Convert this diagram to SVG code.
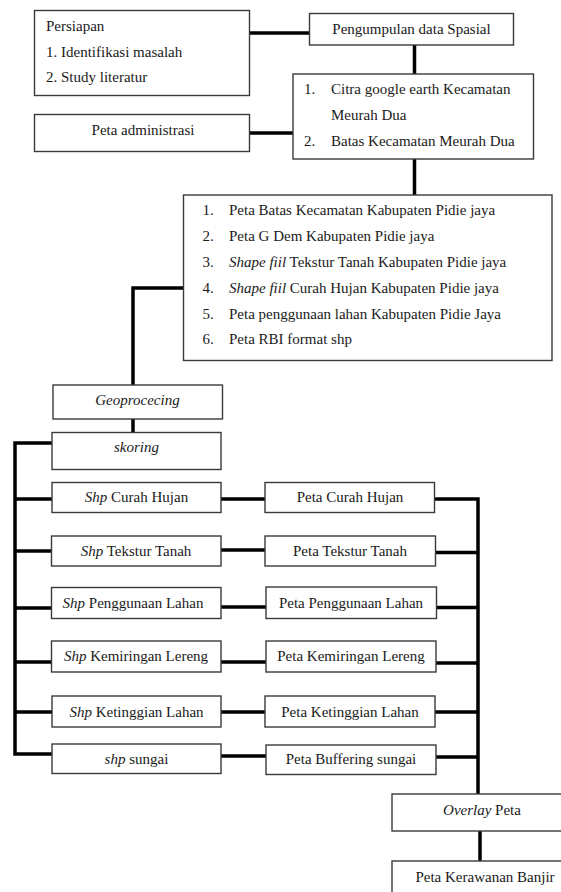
<svg xmlns="http://www.w3.org/2000/svg" width="561" height="892" viewBox="0 0 561 892">
<style>
.box{fill:#fff;stroke:#3a3a3a;stroke-width:1.4}
.t{font-family:"Liberation Serif","Times New Roman",serif;font-size:15px;fill:#1a1a1a}
.c{text-anchor:middle}
.i{font-style:italic}
.ln{fill:none;stroke:#000;stroke-width:3.5;stroke-linejoin:miter}
</style>
<rect width="561" height="892" fill="#fff"/>
<g id="connectors">
<path class="ln" d="M249,33 H309"/>
<path class="ln" d="M250,133 H293"/>
<path class="ln" d="M414.5,45 V74"/>
<path class="ln" d="M414.5,159 V195"/>
<path class="ln" d="M184,288 H133 V385"/>
<path class="ln" d="M133,419 V432"/>
<path class="ln" d="M52,443 H15 V754 H52"/>
<path class="ln" d="M15,499 H52 M15,551 H51 M15,608 H51 M15,662 H51 M15,712 H52"/>
<path class="ln" d="M221,499 H265 M221,550 H265 M221,607 H266 M221,662 H266 M221,712 H265 M221,756 H266"/>
<path class="ln" d="M434,499 H478 V794"/>
<path class="ln" d="M435,552.5 H478 M436,607.5 H478 M436,663 H478 M435,712 H478 M436,757 H478"/>
<path class="ln" d="M480,831 V861"/>
</g>
<g id="persiapan">
<rect class="box" x="34.5" y="10.5" width="215" height="85"/>
<text class="t" x="46" y="30.5">Persiapan</text>
<text class="t" x="46" y="56.5">1. Identifikasi masalah</text>
<text class="t" x="46" y="82">2. Study literatur</text>
</g>
<g id="pengumpulan">
<rect class="box" x="309.5" y="13.5" width="204" height="31.5"/>
<text class="t c" x="411.5" y="34">Pengumpulan data Spasial</text>
</g>
<g id="peta-administrasi">
<rect class="box" x="34.5" y="114.5" width="215" height="37"/>
<text class="t c" x="143" y="134.5">Peta administrasi</text>
</g>
<g id="citra">
<rect class="box" x="293" y="74" width="240.5" height="85"/>
<text class="t" x="304" y="94">1.</text>
<text class="t" x="331" y="94">Citra google earth Kecamatan</text>
<text class="t" x="331" y="120">Meurah Dua</text>
<text class="t" x="304" y="145.5">2.</text>
<text class="t" x="331" y="145.5">Batas Kecamatan Meurah Dua</text>
</g>
<g id="data-list">
<rect class="box" x="183.5" y="195" width="368.5" height="165.5"/>
<text class="t" x="202.5" y="215">1.</text>
<text class="t" x="229" y="215">Peta Batas Kecamatan Kabupaten Pidie jaya</text>
<text class="t" x="202.5" y="241">2.</text>
<text class="t" x="229" y="241">Peta G Dem Kabupaten Pidie jaya</text>
<text class="t" x="202.5" y="267">3.</text>
<text class="t" x="229" y="267"><tspan class="i">Shape fiil</tspan> Tekstur Tanah Kabupaten Pidie jaya</text>
<text class="t" x="202.5" y="293">4.</text>
<text class="t" x="229" y="293"><tspan class="i">Shape fiil</tspan> Curah Hujan Kabupaten Pidie jaya</text>
<text class="t" x="202.5" y="318.5">5.</text>
<text class="t" x="229" y="318.5">Peta penggunaan lahan Kabupaten Pidie Jaya</text>
<text class="t" x="202.5" y="344">6.</text>
<text class="t" x="229" y="344">Peta RBI format shp</text>
</g>
<g id="geoprocecing">
<rect class="box" x="53" y="385" width="169.5" height="34"/>
<text class="t c i" x="137.5" y="405">Geoprocecing</text>
</g>
<g id="skoring">
<rect class="box" x="52" y="432.5" width="169" height="37"/>
<text class="t c i" x="136.5" y="452">skoring</text>
</g>
<g id="shp-curah-hujan">
<rect class="box" x="52" y="482.5" width="169" height="30"/>
<text class="t c" x="136.5" y="502"><tspan class="i">Shp</tspan> Curah Hujan</text>
</g>
<g id="peta-curah-hujan">
<rect class="box" x="265" y="482.5" width="169.5" height="30"/>
<text class="t c" x="350" y="502">Peta Curah Hujan</text>
</g>
<g id="shp-tekstur-tanah">
<rect class="box" x="51.5" y="536" width="169.5" height="30"/>
<text class="t c" x="136" y="556"><tspan class="i">Shp</tspan> Tekstur Tanah</text>
</g>
<g id="peta-tekstur-tanah">
<rect class="box" x="265" y="536" width="170.5" height="30"/>
<text class="t c" x="350" y="556">Peta Tekstur Tanah</text>
</g>
<g id="shp-penggunaan-lahan">
<rect class="box" x="51.5" y="587.5" width="169.5" height="31"/>
<text class="t c" x="133" y="608">
<tspan class="i">Shp</tspan> Penggunaan Lahan</text>
</g>
<g id="peta-penggunaan-lahan">
<rect class="box" x="266" y="587" width="170.5" height="31.5"/>
<text class="t c" x="351" y="608">Peta Penggunaan Lahan</text>
</g>
<g id="shp-kemiringan-lereng">
<rect class="box" x="51.5" y="641" width="169.5" height="31"/>
<text class="t c" x="136" y="661"><tspan class="i">Shp</tspan> Kemiringan Lereng</text>
</g>
<g id="peta-kemiringan-lereng">
<rect class="box" x="266" y="641" width="170" height="31"/>
<text class="t c" x="351" y="661">Peta Kemiringan Lereng</text>
</g>
<g id="shp-ketinggian-lahan">
<rect class="box" x="52" y="696" width="169" height="31"/>
<text class="t c" x="136.5" y="716.5"><tspan class="i">Shp</tspan> Ketinggian Lahan</text>
</g>
<g id="peta-ketinggian-lahan">
<rect class="box" x="265" y="696" width="170" height="31"/>
<text class="t c" x="350" y="716.5">Peta Ketinggian Lahan</text>
</g>
<g id="shp-sungai">
<rect class="box" x="52" y="744" width="169" height="29.5"/>
<text class="t c" x="136.5" y="763.5"><tspan class="i">shp</tspan> sungai</text>
</g>
<g id="peta-buffering-sungai">
<rect class="box" x="266" y="745" width="170" height="29.5"/>
<text class="t c" x="351" y="764">Peta Buffering sungai</text>
</g>
<g id="overlay-peta">
<rect class="box" x="392" y="794" width="190" height="37"/>
<text class="t c" x="482" y="815"><tspan class="i">Overlay</tspan> Peta</text>
</g>
<g id="peta-kerawanan-banjir">
<rect class="box" x="392" y="861" width="190" height="50"/>
<text class="t c" x="485" y="881.5">Peta Kerawanan Banjir</text>
</g>
</svg>
